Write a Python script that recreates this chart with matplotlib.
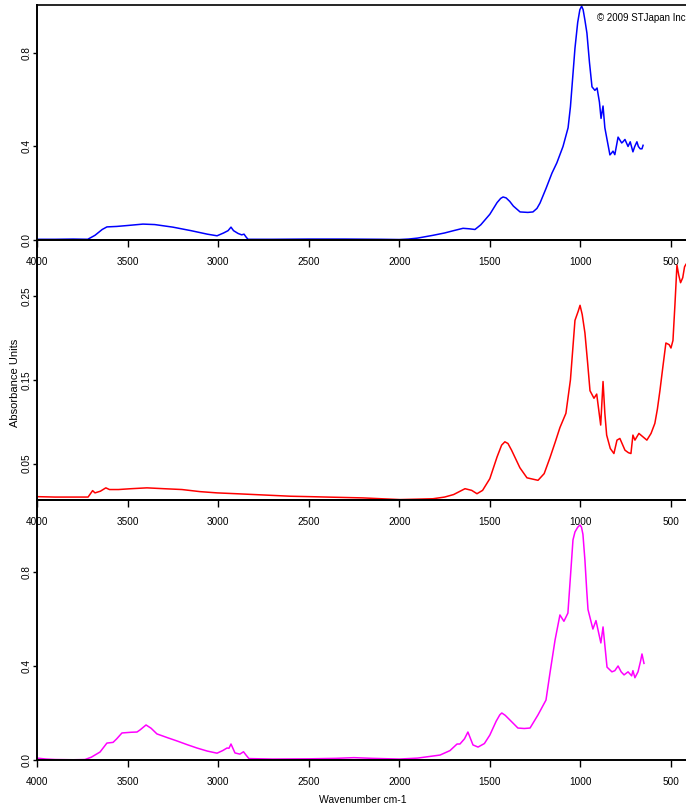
import matplotlib
matplotlib.use("Agg")
import matplotlib.pyplot as plt

# ---------------- data ----------------
wn_blue = [4000, 3900, 3800, 3720, 3680, 3640, 3614, 3560, 3500, 3415, 3350, 3250, 3150, 3060, 3006,
           2970, 2945, 2929, 2915, 2890, 2870, 2857, 2845, 2835, 2700, 2500, 2300, 2100, 2000,
           1950, 1900, 1814, 1750, 1700, 1648, 1615, 1582, 1550, 1500, 1460, 1440, 1427, 1410, 1390, 1370,
           1333, 1290, 1262, 1240, 1223, 1190, 1157, 1130, 1096, 1068, 1055, 1041, 1030, 1015, 1003, 993, 985, 975, 964,
           950, 936, 920, 908, 895, 886, 875, 865, 853, 837, 830, 820, 810, 792, 772, 765,
           754, 737, 725, 710, 700, 688, 680, 670, 660, 654]
ab_blue = [0.003, 0.003, 0.004, 0.003, 0.02, 0.045, 0.056, 0.058, 0.062, 0.068, 0.066, 0.055, 0.04, 0.025, 0.018,
           0.03, 0.04, 0.055, 0.04, 0.028, 0.022, 0.025, 0.012, 0.003, 0.003, 0.004, 0.004, 0.003, 0.002,
           0.004, 0.008, 0.02, 0.03, 0.04, 0.05, 0.048, 0.045, 0.065, 0.11, 0.16, 0.178, 0.184, 0.18, 0.165, 0.145,
           0.12, 0.118, 0.12, 0.135, 0.158, 0.22, 0.286, 0.33, 0.40, 0.48, 0.57, 0.71, 0.82, 0.93, 0.985, 1.0, 0.985, 0.94, 0.885,
           0.76, 0.655, 0.64, 0.65, 0.59, 0.52, 0.573, 0.48, 0.43, 0.364, 0.37, 0.38, 0.365, 0.44, 0.415, 0.42,
           0.43, 0.40, 0.42, 0.377, 0.40, 0.42, 0.40, 0.39, 0.39, 0.405]

wn_red = [4000, 3900, 3800, 3718, 3693, 3680, 3650, 3620, 3600, 3550, 3480, 3393, 3300, 3200, 3100,
          3006, 2900, 2800, 2700, 2600, 2493, 2400, 2300, 2200, 2100, 1996, 1900, 1814, 1750,
          1700, 1637, 1600, 1571, 1540, 1500, 1460, 1435, 1417, 1400, 1380, 1334, 1295, 1234, 1200, 1168,
          1140, 1113, 1080, 1055, 1030, 1012, 1002, 990, 975, 960, 947, 925, 910, 888, 875, 865, 855,
          835, 815, 798, 782, 770, 754, 735, 721, 710, 699, 677, 655, 633, 610, 589, 575, 561,
          545, 528, 510, 500, 489, 478, 467, 457, 447, 435, 425, 417]
ab_red = [0.0105, 0.010, 0.010, 0.010, 0.0177, 0.015, 0.017, 0.021, 0.019, 0.019, 0.020, 0.021, 0.020, 0.019, 0.0165,
          0.015, 0.014, 0.013, 0.012, 0.011, 0.0105, 0.010, 0.0095, 0.009, 0.008, 0.007, 0.0075, 0.008, 0.010,
          0.013, 0.020, 0.018, 0.014, 0.018, 0.032, 0.058, 0.072, 0.076, 0.074, 0.066, 0.045, 0.033, 0.030, 0.038, 0.057,
          0.075, 0.093, 0.11, 0.15, 0.221, 0.232, 0.239, 0.228, 0.206, 0.17, 0.137, 0.128, 0.133, 0.096, 0.148, 0.11, 0.084,
          0.068, 0.062, 0.078, 0.080, 0.074, 0.066, 0.063, 0.062, 0.084, 0.078, 0.086, 0.082, 0.078, 0.086, 0.098, 0.115, 0.137,
          0.165, 0.194, 0.192, 0.188, 0.197, 0.24, 0.287, 0.275, 0.266, 0.272, 0.285, 0.288]

wn_mag = [4000, 3950, 3900, 3800, 3735, 3700, 3652, 3614, 3580, 3560, 3531, 3480, 3448, 3431, 3398,
          3370, 3338, 3280, 3227, 3170, 3117, 3060, 3006, 2975, 2951, 2940, 2929, 2907, 2880, 2860,
          2845, 2830, 2700, 2500, 2350, 2250, 2150, 2000, 1900, 1775, 1720, 1681, 1665, 1640, 1621,
          1593, 1565, 1530, 1500, 1465, 1445, 1434, 1415, 1389, 1345, 1310, 1278, 1234, 1190, 1168, 1140, 1113,
          1091, 1069, 1055, 1041, 1030, 1015, 1002, 994, 986, 975, 965, 958, 931, 914, 887, 875, 853, 826, 810, 792, 775, 759,
          737, 717, 710, 699, 682, 668, 660, 649]
ab_mag = [0.008, 0.004, 0.002, 0.001, 0.002, 0.012, 0.034, 0.072, 0.075, 0.09, 0.115, 0.118, 0.119, 0.128, 0.149,
          0.135, 0.111, 0.095, 0.081, 0.065, 0.051, 0.038, 0.029, 0.04, 0.051, 0.05, 0.068, 0.03, 0.025, 0.035,
          0.02, 0.006, 0.004, 0.005, 0.007, 0.01, 0.007, 0.004, 0.008, 0.021, 0.04, 0.068, 0.068, 0.09, 0.119,
          0.064, 0.055, 0.07, 0.106, 0.165, 0.192, 0.200, 0.19, 0.17, 0.136, 0.134, 0.136, 0.192, 0.255, 0.37, 0.51, 0.617,
          0.59, 0.625, 0.78, 0.936, 0.97, 0.99, 1.0, 0.99, 0.96, 0.85, 0.72, 0.64, 0.557, 0.593, 0.498, 0.566, 0.395, 0.375, 0.38, 0.40, 0.375, 0.362,
          0.375, 0.358, 0.38, 0.35, 0.375, 0.42, 0.451, 0.411]

x_ticks = [4000, 3500, 3000, 2500, 2000, 1500, 1000, 500]
x_ticklabels = ["4000", "3500", "3000", "2500", "2000", "1500", "1000", "500"]
y_ticks_1 = [0.0, 0.4, 0.8]
y_ticks_2 = [0.05, 0.15, 0.25]
y_ticks_3 = [0.0, 0.4, 0.8]

# ---------------- figure ----------------
W, H = 686, 809
fig = plt.figure(figsize=(W / 100, H / 100), dpi=100)

narrow = ["Liberation Sans Narrow", "Liberation Sans", "DejaVu Sans"]
regular = ["Liberation Sans", "DejaVu Sans"]

def px_box(top, bottom, left=37, right=W):
    return [left / W, 1 - bottom / H, (right - left) / W, (bottom - top) / H]

panels = [
    (px_box(5, 240), wn_blue, ab_blue, "#0000ff", (0.0, 1.005), y_ticks_1, ["0.0", "0.4", "0.8"]),
    (px_box(240, 500), wn_red, ab_red, "#ff0000", (0.0065, 0.317), y_ticks_2, ["0.05", "0.15", "0.25"]),
    (px_box(500, 760), wn_mag, ab_mag, "#ff00ff", (0.0, 1.106), y_ticks_3, ["0.0", "0.4", "0.8"]),
]

for rect, xs, ys, col, ylim, yt, ytl in panels:
    ax = fig.add_axes(rect)
    ax.patch.set_visible(False)
    ax.plot(xs, ys, color=col, lw=1.1, solid_joinstyle="round")
    ax.set_xlim(4000, 417)
    ax.set_ylim(*ylim)
    ax.spines["right"].set_visible(False)
    for s in ("left", "top", "bottom"):
        ax.spines[s].set_linewidth(1.4)
    ax.spines["top"].set_linewidth(1.2)
    ax.set_xticks(x_ticks)
    ax.set_xticklabels(x_ticklabels, fontsize=7.2, family=narrow)
    ax.set_yticks(yt)
    ax.set_yticklabels(ytl, fontsize=7.2, family=regular, rotation=90, va="center")
    ax.tick_params(axis="x", direction="out", length=5, width=1.0, pad=7)
    ax.tick_params(axis="y", direction="out", length=3, width=1.0, pad=1)

fig.text(15 / W, 1 - 383 / H, "Absorbance Units", rotation=90, ha="center", va="center",
         fontsize=8.0, family=regular)
fig.text(363 / W, 1 - 800 / H, "Wavenumber cm-1", ha="center", va="center",
         fontsize=7.5, family=narrow)
fig.text(686 / W, 1 - 18 / H, "\u00a9 2009 STJapan Inc", ha="right", va="center",
         fontsize=7.0, family=narrow)

fig.savefig("out.png", dpi=100)
